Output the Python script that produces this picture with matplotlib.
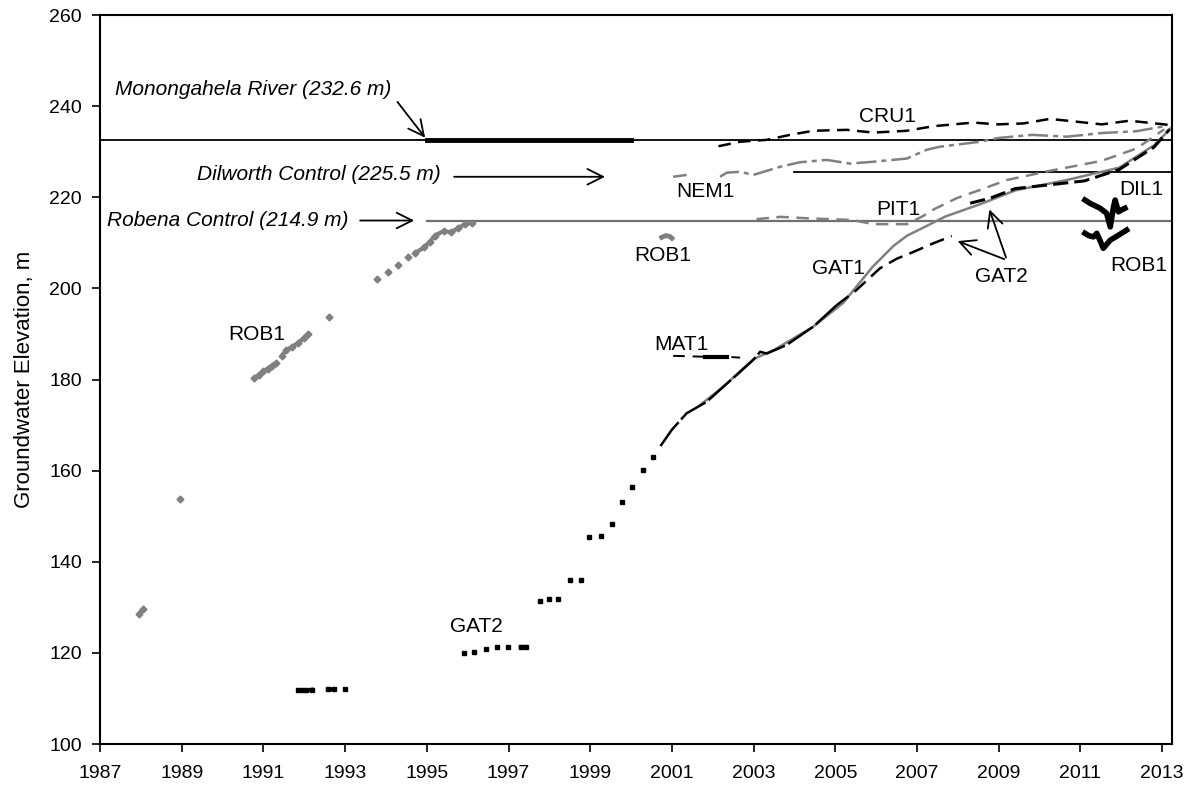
import matplotlib.pyplot as plt
import numpy as np

nan = np.nan

# reference levels (m)
mon_level = 232.6
dil_level = 225.5
rob_level = 214.9

# ROB1 early record (gray diamonds), nan splits runs
rob1_x = [1987.96, 1988.04, nan, 1988.96, nan,
          1990.78, 1990.9, 1991.0, 1991.1, 1991.2, 1991.3, nan,
          1991.45, 1991.55, 1991.7, 1991.85, 1992.0, 1992.1, nan,
          1992.61, nan, 1993.79, nan, 1994.04, nan, 1994.30, nan, 1994.55, nan,
          1994.72, 1994.93, 1995.07, 1995.20, 1995.41, 1995.59, 1995.77, 1995.94, 1996.11]
rob1_y = [128.6, 129.6, nan, 153.8, nan,
          180.4, 181.1, 181.8, 182.4, 183.0, 183.6, nan,
          185.2, 186.4, 187.2, 188.0, 189.2, 190.1, nan,
          193.8, nan, 202.0, nan, 203.5, nan, 205.2, nan, 206.8, nan,
          207.8, 209.0, 210.2, 211.6, 212.6, 212.3, 213.3, 214.1, 214.4]

# ROB1 around 2001
rob1b_x = [2000.75, 2000.85, 2000.95, 2001.0]
rob1b_y = [211.2, 211.6, 211.4, 211.0]

# ROB1 2011-2012
rob1c_x = [2011.11, 2011.2, 2011.32, 2011.40, 2011.48, 2011.56, 2011.73, 2011.9, 2012.13]
rob1c_y = [212.1, 211.6, 211.3, 212.1, 210.5, 208.8, 210.6, 211.5, 212.8]

# DIL1
dil1_x = [2011.11, 2011.25, 2011.32, 2011.48, 2011.64, 2011.73, 2011.81, 2011.85, 2011.93, 2012.0, 2012.09]
dil1_y = [219.4, 218.6, 218.3, 217.6, 216.5, 213.5, 217.9, 219.4, 216.8, 217.2, 217.6]

# GAT2 early sparse readings
gat2a_x = [1991.85, 1991.95, 1992.05, 1992.18, nan, 1992.58, 1992.72, nan, 1993.0, nan,
           1995.92, nan, 1996.16, nan, 1996.45, nan, 1996.73, nan, 1996.98, nan,
           1997.30, 1997.42, nan, 1997.77, nan, 1997.98, nan, 1998.22, nan,
           1998.50, nan, 1998.78, nan, 1998.97, nan, 1999.26, nan, 1999.53, nan,
           1999.78, nan, 2000.02, nan, 2000.28, nan, 2000.54]
gat2a_y = [111.8, 111.8, 111.8, 111.9, nan, 112.0, 112.0, nan, 112.0, nan,
           120.0, nan, 120.3, nan, 120.9, nan, 121.3, nan, 121.3, nan,
           121.3, 121.3, nan, 131.4, nan, 131.8, nan, 131.8, nan,
           135.9, nan, 136.1, nan, 145.4, nan, 145.6, nan, 148.3, nan,
           153.2, nan, 156.5, nan, 160.2, nan, 163.0]

# GAT2 continuous record
gat2b_x = [2000.72, 2001.0, 2001.36, 2001.85, 2002.22, 2002.67, 2002.99, 2003.16, 2003.32,
           2003.81, 2004.46, 2005.03]
gat2b_y = [165.4, 169.0, 172.6, 175.1, 178.1, 181.7, 184.3, 186.1, 185.7,
           187.6, 191.6, 196.3]
gat2c_x = [2005.03, 2005.5, 2006.09, 2006.5, 2006.91, 2007.40, 2007.85]
gat2c_y = [196.3, 199.5, 204.4, 206.5, 208.0, 209.9, 211.5]
gat2d_x = [2008.30, 2008.79, 2009.40, 2010.2, 2011.10, 2011.95, 2012.80, 2013.18]
gat2d_y = [218.7, 219.8, 221.9, 222.7, 223.6, 226.1, 231.0, 234.9]

# GAT1
gat1_x = [2001.7, 2002.2, 2003.0, 2003.5, 2004.46, 2005.19, 2005.91, 2006.42, 2006.76,
          2007.19, 2007.70, 2008.55, 2009.40, 2010.67, 2011.95, 2012.80, 2013.22]
gat1_y = [174.5, 178.0, 184.5, 186.5, 191.6, 196.8, 204.7, 209.3, 211.6,
          213.5, 215.8, 218.5, 221.5, 223.8, 226.5, 231.4, 235.2]

# PIT1
pit1_x = [2003.07, 2003.65, 2004.30, 2005.43, 2005.92, 2006.75, 2007.15, 2007.40, 2007.97,
          2008.54, 2009.2, 2010.25, 2011.52, 2012.37, 2013.05]
pit1_y = [215.2, 215.7, 215.4, 215.0, 214.1, 214.1, 215.9, 217.3, 219.8,
          221.6, 223.8, 225.8, 228.0, 230.7, 234.9]

# CRU1
cru1_x = [2002.14, 2002.67, 2003.32, 2003.89, 2004.46, 2005.28, 2005.93, 2006.75, 2007.40,
          2008.38, 2008.97, 2009.6, 2010.25, 2010.9, 2011.52, 2012.20, 2013.05, 2013.22]
cru1_y = [231.2, 232.2, 232.6, 233.7, 234.6, 234.8, 234.2, 234.6, 235.6,
          236.4, 236.0, 236.2, 237.2, 236.6, 236.0, 236.8, 236.0, 235.8]

# NEM1
nem1_x = [2001.03, 2001.36, nan, 2002.18, 2002.34, 2002.67, 2002.99, 2003.32, 2003.65, 2004.14,
          2004.79, 2005.36, 2005.93, 2006.75, 2007.23, 2007.56, 2008.55, 2008.97, 2009.82,
          2010.67, 2011.52, 2012.37, 2013.05]
nem1_y = [224.5, 224.9, nan, 224.5, 225.4, 225.6, 224.9, 225.8, 226.7, 227.7,
          228.2, 227.4, 227.8, 228.5, 230.4, 231.1, 232.2, 233.0, 233.7,
          233.3, 234.1, 234.5, 235.6]

# MAT1
mat1_x = [2001.03, 2001.81, 2002.34, 2002.67]
mat1_y = [185.2, 185.0, 185.0, 184.8]
mat1_thick_x = [2001.81, 2002.34]
mat1_thick_y = [185.0, 185.0]

years = list(range(1987, 2014, 2))
elev_ticks = list(range(100, 261, 20))

plt.rcParams['font.family'] = ['Liberation Sans', 'DejaVu Sans']
plt.rcParams['font.size'] = 15

gray = '#808080'
fig = plt.figure(figsize=(11.95, 7.87), dpi=100)
ax = fig.add_axes([0.0837, 0.0546, 0.897, 0.9263])

# control levels
ax.axhline(mon_level, color='black', lw=1.3, zorder=1)
ax.plot([1995, 2000], [mon_level, mon_level], color='black', lw=3.5, zorder=1)
ax.plot([2004, 2013.3], [dil_level, dil_level], color='black', lw=1.3, zorder=1)
ax.plot([1995, 2013.3], [rob_level, rob_level], color='#707070', lw=1.6, zorder=1)

# wells
ax.plot(rob1_x, rob1_y, color=gray, lw=3, marker='D', ms=3.5, solid_capstyle='butt')
ax.plot(rob1b_x, rob1b_y, color=gray, lw=3.5)
ax.plot(gat2a_x, gat2a_y, color='black', lw=3, marker='s', ms=3, ls='-')
ax.plot(gat1_x, gat1_y, color=gray, lw=1.8)
ax.plot(gat2b_x, gat2b_y, color='black', lw=1.8, dashes=(12, 1.5))
ax.plot(gat2c_x, gat2c_y, color='black', lw=1.8, dashes=(6, 3))
ax.plot(gat2d_x, gat2d_y, color='black', lw=2.2, dashes=(5, 2))
ax.plot(pit1_x, pit1_y, color=gray, lw=1.8, dashes=(5, 3))
ax.plot(cru1_x, cru1_y, color='black', lw=1.8, dashes=(5, 3))
ax.plot(nem1_x, nem1_y, color=gray, lw=1.8, dashes=(8, 2, 2, 2))
ax.plot(mat1_x, mat1_y, color='black', lw=1.4, dashes=(6, 4))
ax.plot(mat1_thick_x, mat1_thick_y, color='black', lw=3)
ax.plot(dil1_x, dil1_y, color='black', lw=4, solid_joinstyle='round')
ax.plot(rob1c_x, rob1c_y, color='black', lw=4, solid_joinstyle='round')

# control level notes
arr = dict(arrowstyle='->', color='black', lw=1.3, mutation_scale=28)
ax.text(1987.36, 243.6, 'Monongahela River (232.6 m)', style='italic', va='center', ha='left')
ax.annotate('', xy=(1995.0, mon_level), xytext=(1994.24, 241.4), arrowprops=arr)
ax.text(1989.37, 224.9, 'Dilworth Control (225.5 m)', style='italic', va='center', ha='left')
ax.annotate('', xy=(1999.43, 224.5), xytext=(1995.6, 224.5), arrowprops=arr)
ax.text(1987.16, 214.8, 'Robena Control (214.9 m)', style='italic', va='center', ha='left')
ax.annotate('', xy=(1994.76, 214.9), xytext=(1993.3, 214.9), arrowprops=arr)

# well labels
ax.text(2006.27, 237.8, 'CRU1', ha='center', va='center')
ax.text(2001.81, 221.2, 'NEM1', ha='center', va='center')
ax.text(2006.54, 217.4, 'PIT1', ha='center', va='center')
ax.text(2005.07, 204.4, 'GAT1', ha='center', va='center')
ax.text(2009.07, 202.6, 'GAT2', ha='center', va='center')
ax.text(2012.5, 221.6, 'DIL1', ha='center', va='center')
ax.text(2012.42, 205.1, 'ROB1', ha='center', va='center')
ax.text(2000.78, 207.2, 'ROB1', ha='center', va='center')
ax.text(1990.84, 189.9, 'ROB1', ha='center', va='center')
ax.text(1996.22, 125.7, 'GAT2', ha='center', va='center')
ax.text(2001.24, 187.6, 'MAT1', ha='center', va='center')
ax.annotate('', xy=(2007.93, 210.6), xytext=(2009.2, 206.2), arrowprops=arr)
ax.annotate('', xy=(2008.75, 217.9), xytext=(2009.2, 206.2), arrowprops=arr)

ax.set_xlim(1987, 2013.24)
ax.set_ylim(100, 260)
ax.set_xticks(years)
ax.set_yticks(elev_ticks)
ax.set_ylabel('Groundwater Elevation, m', fontsize=16, labelpad=10)
ax.tick_params(direction='out', length=6, width=1.2, labelsize=14)
ax.tick_params(axis='x', pad=9)
ax.tick_params(axis='y', pad=7)
for s in ax.spines.values():
    s.set_linewidth(1.5)

plt.savefig('out.png', dpi=100)
